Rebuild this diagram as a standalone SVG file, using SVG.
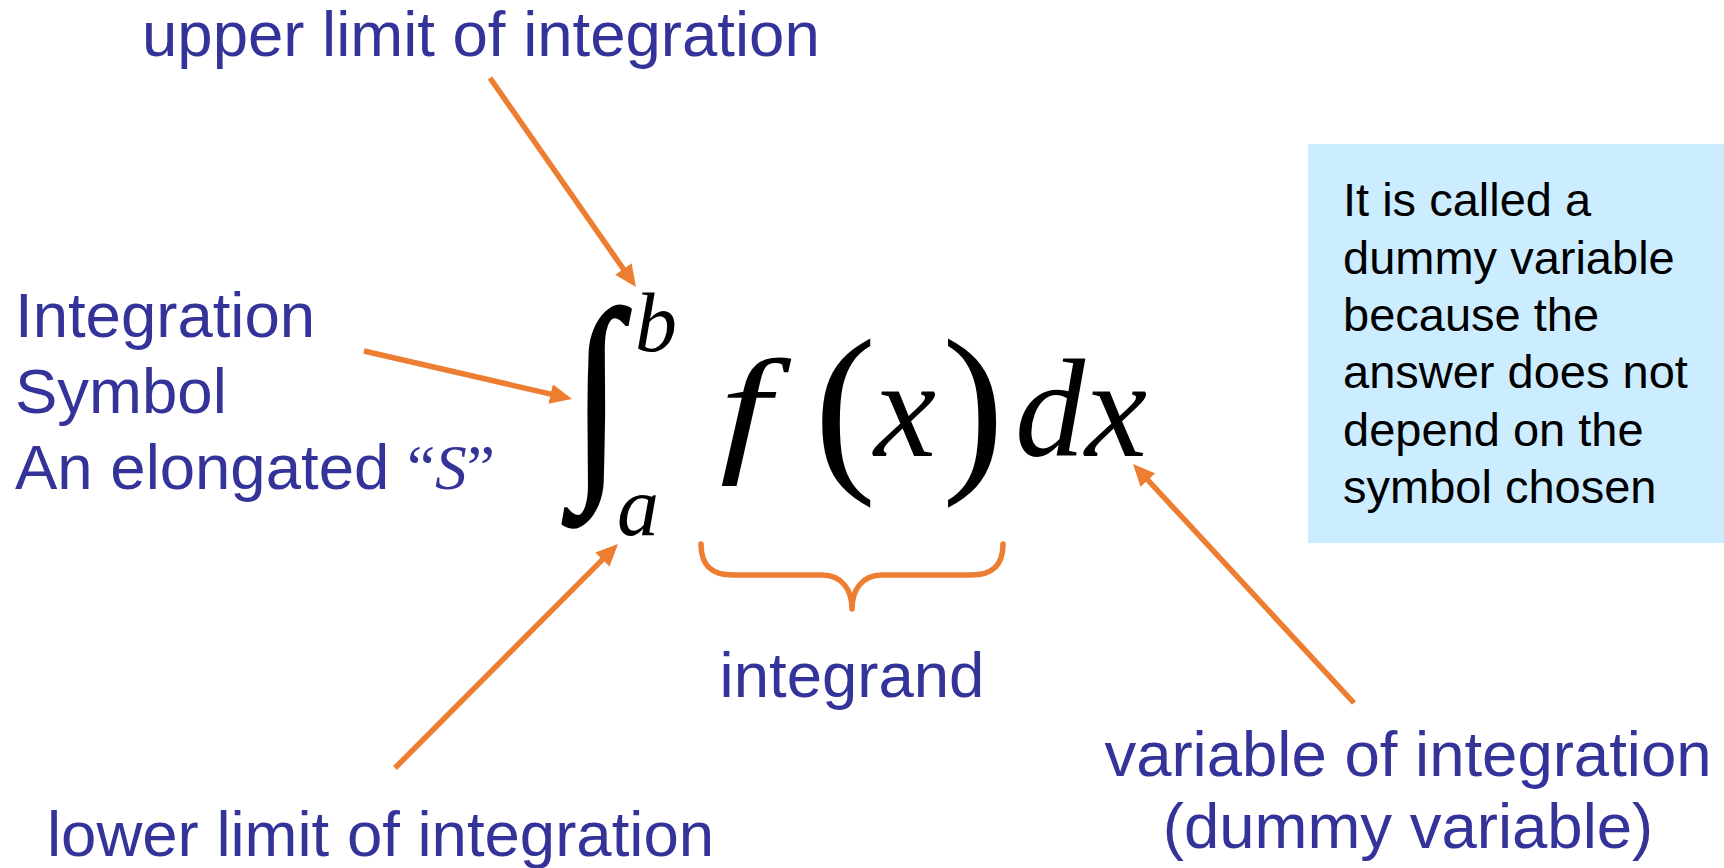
<svg xmlns="http://www.w3.org/2000/svg" width="1724" height="868" viewBox="0 0 1724 868">
<defs>
<style>
.lbl{font-family:"Liberation Sans",Arial,sans-serif;font-size:63.5px;fill:#333399}
.box{font-family:"Liberation Sans",Arial,sans-serif;font-size:47px;fill:#000}
.math{font-family:"Liberation Serif","Times New Roman",serif;fill:#000}
.it{font-style:italic}
.conn{stroke:#ED7D31;stroke-width:5.5;fill:none}
</style>
<marker id="ah" viewBox="0 0 22 20" refX="7" refY="10" markerWidth="22" markerHeight="20" markerUnits="userSpaceOnUse" orient="auto">
<path d="M0,0 L22,10 L0,20 z" fill="#ED7D31"/>
</marker>
</defs>
<rect width="1724" height="868" fill="#fff"/>

<g id="note">
<rect x="1308" y="144" width="416" height="399" fill="#CCECFF"/>
<text class="box" x="1343" y="216">It is called a</text>
<text class="box" x="1343" y="273.5">dummy variable</text>
<text class="box" x="1343" y="331">because the</text>
<text class="box" x="1343" y="388">answer does not</text>
<text class="box" x="1343" y="445.5">depend on the</text>
<text class="box" x="1343" y="503">symbol chosen</text>
</g>

<g id="formula">
<text class="math" transform="translate(572,467) scale(0.8,1)" font-size="226" stroke="#000" stroke-width="2.5">∫</text>
<text class="math it" x="635" y="351" font-size="84">b</text>
<text class="math it" x="617" y="535" font-size="84">a</text>
<text class="math it" transform="translate(745,456) scale(1.3,1)" text-anchor="middle" font-size="140">f</text>
<text class="math" x="814" y="468" font-size="187">(</text>
<text class="math it" x="874" y="456" font-size="140">x</text>
<text class="math" x="942" y="468" font-size="187">)</text>
<text class="math it" x="1015" y="456" font-size="140">d</text>
<text class="math it" x="1085" y="456" font-size="140">x</text>
</g>

<g id="upper-label">
<text class="lbl" x="142" y="56">upper limit of integration</text>
</g>
<g id="symbol-label">
<text class="lbl" x="15" y="337">Integration</text>
<text class="lbl" x="15" y="413">Symbol</text>
<text class="lbl" x="15" y="489">An elongated <tspan font-family="Liberation Serif, serif">“<tspan font-style="italic">S</tspan>”</tspan></text>
</g>
<g id="lower-label">
<text class="lbl" x="47" y="856">lower limit of integration</text>
</g>
<g id="integrand-label">
<path class="conn" stroke-linecap="round" stroke-linejoin="round" d="M701,544 C701,566 712,575 733,575 L822,575 C842,575 852,590 852,609 C852,590 862,575 882,575 L971,575 C992,575 1003,566 1003,544"/>
<text class="lbl" x="852" y="697" text-anchor="middle">integrand</text>
</g>
<g id="variable-label">
<text class="lbl" x="1408" y="776" text-anchor="middle">variable of integration</text>
<text class="lbl" x="1408" y="848" text-anchor="middle">(dummy variable)</text>
</g>

<g id="connectors">
<path class="conn" d="M490,78 L627.4,274.7" marker-end="url(#ah)"/>
<path class="conn" d="M364,351 L557.4,395.6" marker-end="url(#ah)"/>
<path class="conn" d="M395,768 L607.4,554.6" marker-end="url(#ah)"/>
<path class="conn" d="M1354,703 L1143.2,475" marker-end="url(#ah)"/>
</g>
</svg>
